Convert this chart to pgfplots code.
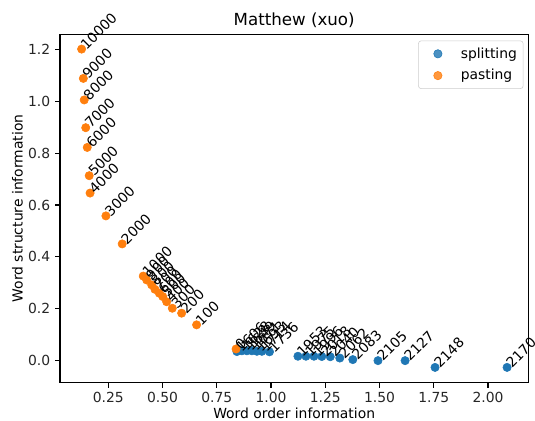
\documentclass[border=0pt]{standalone}
\usepackage{fontspec}
\setmainfont{DejaVu Sans}
\usepackage{pgfplots}
\pgfplotsset{compat=1.18}
\usepackage{pgfplotstable}
\usetikzlibrary{calc}
\definecolor{mplblue}{HTML}{1F77B4}
\definecolor{mplorange}{HTML}{FF7F0E}
\pgfplotsset{mpl legend/.style={legend image code/.code={\path (0pt,-3pt) rectangle (26pt,3pt); \draw[mark repeat=2, mark phase=2, ##1] plot coordinates {(0pt,0pt) (11.5pt,0pt) (26pt,0pt)};}}}

\pgfplotstableread{
x y label
0.843 0.035 1606
0.866 0.038 1628
0.889 0.038 1649
0.912 0.038 1671
0.935 0.036 1693
0.958 0.036 1714
0.993 0.034 1736
1.124 0.017 1953
1.161 0.017 1975
1.198 0.017 1996
1.234 0.016 2018
1.273 0.015 2040
1.317 0.010 2062
1.377 0.004 2083
1.493 0.000 2105
1.618 0.000 2127
1.756 -0.026 2148
2.088 -0.026 2170
}\splitting

\pgfplotstableread{
x y label
0.839 0.045 0
0.657 0.138 100
0.588 0.183 200
0.545 0.202 300
0.519 0.227 400
0.501 0.247 500
0.485 0.260 600
0.465 0.275 700
0.450 0.292 800
0.427 0.311 900
0.411 0.326 1000
0.314 0.450 2000
0.239 0.558 3000
0.166 0.646 4000
0.162 0.713 5000
0.153 0.822 6000
0.146 0.898 7000
0.139 1.005 8000
0.135 1.088 9000
0.127 1.201 10000
}\pasting

\begin{document}
\begin{tikzpicture}
\begin{axis}[name=ax, scale only axis, width=337.2pt, height=250.8pt,
  xmin=0.0274, xmax=2.186, ymin=-0.0848, ymax=1.258,
  xtick={0.25,0.5,0.75,1.0,1.25,1.5,1.75,2.0},
  ytick={0,0.2,0.4,0.6,0.8,1.0,1.2},
  xticklabel style={/pgf/number format/.cd, fixed, fixed zerofill, precision=2},
  yticklabel style={/pgf/number format/.cd, fixed, fixed zerofill, precision=1},
  /pgf/number format/assume math mode=true,
  tick label style={font=\fontsize{10}{12}\selectfont, text=black!85},
  label style={font=\fontsize{10}{12}\selectfont},
  title style={font=\fontsize{12}{14}\selectfont, yshift=-4.5pt},
  title={Matthew (xuo)},
  xlabel={Word order information},
  ylabel={Word structure information},
  xlabel shift=-3pt, ylabel shift=-3pt,
  tick align=outside, xtick pos=bottom, ytick pos=left,
  major tick length=3.5pt,
  axis line style={line width=0.8pt},
  every tick/.style={line width=0.8pt, black},
  legend style={at={(1,1)}, xshift=-3.5pt, yshift=-4.5pt, anchor=north east,
    draw=black!20, rounded corners=2pt, fill=white, fill opacity=0.8, text opacity=1,
    font=\fontsize{10}{12}\selectfont, row sep=2pt, inner sep=2.5pt,
    nodes={inner ysep=2.3pt}},
  legend cell align=left,
]
\addplot[only marks, mark=*, mark size=3pt, draw=none, mark options={draw=mplblue, fill=mplblue}, mpl legend]
  table[x=x,y=y] {\splitting};
\addplot[only marks, mark=*, mark size=3pt, draw=none, mark options={draw=mplorange, fill=mplorange}, mpl legend]
  table[x=x,y=y] {\pasting};
\legend{splitting, pasting}
\addplot[forget plot, draw=none, mark=none, nodes near coords, point meta=explicit symbolic,
  nodes near coords style={shift={(3.5pt,-1pt)}, anchor=base west, rotate=45, inner sep=0pt, font=\fontsize{10}{12}\selectfont, text=black}]
  table[x=x,y=y,meta=label] {\splitting};
\addplot[forget plot, draw=none, mark=none, nodes near coords, point meta=explicit symbolic,
  nodes near coords style={shift={(3.5pt,-1pt)}, anchor=base west, rotate=45, inner sep=0pt, font=\fontsize{10}{12}\selectfont, text=black}]
  table[x=x,y=y,meta=label] {\pasting};
\end{axis}
\pgfresetboundingbox
\path ($(ax.south west)+(-43.2pt,-27.6pt)$) rectangle ($(ax.north east)+(4.8pt,24.7pt)$);
\end{tikzpicture}
\end{document}
